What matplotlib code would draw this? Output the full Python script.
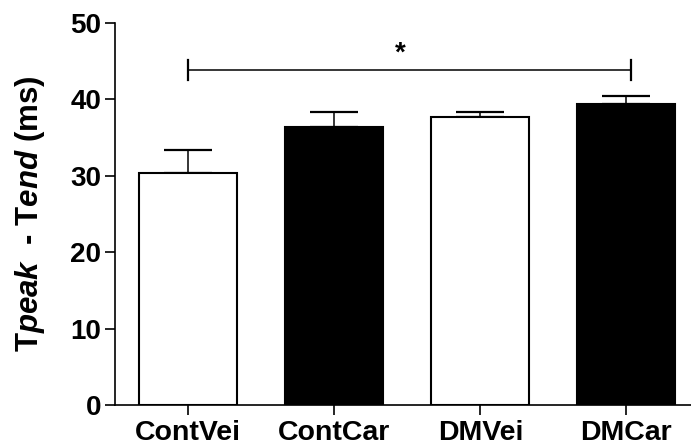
import numpy as np
import matplotlib
matplotlib.use('Agg')
import matplotlib.pyplot as plt

# data
groups = ['ContVei', 'ContCar', 'DMVei', 'DMCar']
means = [30.3, 36.4, 37.7, 39.4]
sem = [3.1, 2.0, 0.7, 1.1]
colors = ['white', 'black', 'white', 'black']
bracket_y = 43.8

plt.rcParams['font.family'] = 'Liberation Sans'
plt.rcParams['font.weight'] = 'bold'
plt.rcParams['mathtext.fontset'] = 'custom'
plt.rcParams['mathtext.it'] = 'Liberation Sans:italic:bold'
plt.rcParams['mathtext.rm'] = 'Liberation Sans:bold'

fig = plt.figure(figsize=(6.91, 4.48), dpi=100)
ax = fig.add_axes([0.1669, 0.096, 0.8331, 0.8527])

x = np.arange(len(groups))
width = 0.67

ax.bar(x, means, width, color=colors, edgecolor='black', linewidth=1.5, zorder=3)
ax.errorbar(x, means, yerr=[np.zeros(len(sem)), sem], fmt='none', ecolor='black',
            elinewidth=1.1, capsize=17.6, capthick=1.6, zorder=2)

# significance bracket
ax.plot([0, 3.03], [bracket_y, bracket_y], color='black', lw=1.1, clip_on=False)
for xb in [0, 3.03]:
    ax.plot([xb, xb], [bracket_y - 1.3, bracket_y + 1.3], color='black', lw=1.6, clip_on=False)
ax.text(1.45, bracket_y + 2.2, '*', ha='center', va='center', fontsize=20, fontweight='bold')

ax.set_xlim(-0.5, 3.443)
ax.set_ylim(0, 50)
ax.set_yticks(np.arange(0, 51, 10))
ax.set_xticks(x)
ax.set_xticklabels(groups)

for s in ['top', 'right']:
    ax.spines[s].set_visible(False)
for s in ['left', 'bottom']:
    ax.spines[s].set_linewidth(1.2)

ax.tick_params(axis='both', length=7, width=1.2, labelsize=20)
ax.tick_params(axis='y', pad=3)
ax.tick_params(axis='x', pad=4, labelsize=20.5)
for lbl in ax.get_xticklabels() + ax.get_yticklabels():
    lbl.set_fontweight('bold')

ax.set_ylabel(r'T$\mathit{peak}$  - T$\mathit{end}$ (ms)', fontsize=22.5, fontweight='bold')
ax.yaxis.set_label_coords(-0.119, 0.5)

fig.savefig('out.png', dpi=100)
